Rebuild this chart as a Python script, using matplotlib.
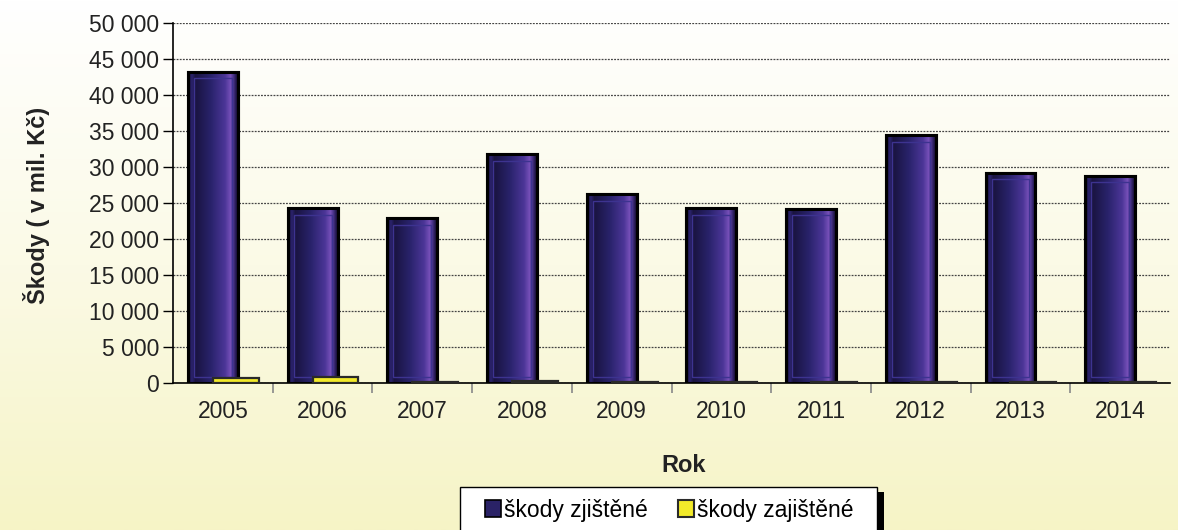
import numpy as np
import matplotlib
matplotlib.use("Agg")
import matplotlib.pyplot as plt
from matplotlib.colors import LinearSegmentedColormap
from matplotlib.patches import Rectangle, Patch
from matplotlib.ticker import FuncFormatter, MultipleLocator

# --- data ---
roky = ['2005', '2006', '2007', '2008', '2009', '2010', '2011', '2012', '2013', '2014']
skody_zjistene = [43200, 24300, 22900, 31800, 26200, 24300, 24200, 34400, 29200, 28800]
skody_zajistene = [650, 850, 130, 230, 150, 120, 90, 110, 100, 80]

plt.rcParams['font.family'] = ['Liberation Sans', 'DejaVu Sans']

W, H = 1178, 530
fig = plt.figure(figsize=(W / 100, H / 100), dpi=100)

# background gradient (white -> pale yellow)
bg = fig.add_axes([0, 0, 1, 1], zorder=-10)
bg.axis('off')
bg_cmap = LinearSegmentedColormap.from_list('bg', ['#ffffff', '#fbfae6', '#f6f4c6'])
bg.imshow(np.linspace(0, 1, 256).reshape(-1, 1), aspect='auto', cmap=bg_cmap,
          extent=[0, 1, 0, 1], origin='upper')

ax = fig.add_axes([173 / W, (H - 383) / H, 997 / W, 360 / H])
ax.set_facecolor('none')

x = np.arange(len(roky))
bar_cmap = LinearSegmentedColormap.from_list('bar', [
    (0.0, '#100a26'), (0.07, '#2c2470'), (0.14, '#1a1440'), (0.45, '#28226a'),
    (0.75, '#4c3698'), (0.86, '#7650b8'), (0.93, '#3e2c7c'), (1.0, '#120a2a')])
grad = np.linspace(0, 1, 64).reshape(1, -1)

bars = ax.bar(x - 0.1, skody_zjistene, width=0.5, color='#2a2266',
              edgecolor='black', linewidth=2.2, zorder=3)
for b in bars:
    x0, w, h = b.get_x(), b.get_width(), b.get_height()
    im = ax.imshow(grad, aspect='auto', cmap=bar_cmap, zorder=3.5,
                   extent=[x0, x0 + w, 0, h])
    im.set_clip_path(b)
    # bevel frame
    ax.add_patch(Rectangle((x0 + w * 0.12, 900), w * 0.76, h - 1800,
                           fill=False, edgecolor='#3d3390', linewidth=1.0, zorder=3.6))
    ax.add_patch(Rectangle((x0, 0), w, h, fill=False, edgecolor='black',
                           linewidth=2.2, zorder=3.7))

ax.bar(x + 0.13, skody_zajistene, width=0.46, color='#f2ea2a',
       edgecolor='#2a2a2a', linewidth=1.6, zorder=4)

ax.set_xlim(-0.5, len(roky) - 0.5)
ax.set_ylim(0, 50000)
ax.yaxis.set_major_locator(MultipleLocator(5000))
ax.yaxis.set_major_formatter(FuncFormatter(lambda v, p: f'{int(v):,}'.replace(',', ' ')))
ax.grid(axis='y', color='#444444', linestyle=(0, (1.5, 1.0)), linewidth=0.9, zorder=1)
ax.set_axisbelow(True)

ax.set_xticks(x)
ax.set_xticklabels(roky)
ax.set_xticks(np.arange(0.5, len(roky) - 0.5, 1), minor=True)
ax.tick_params(axis='x', which='major', length=0, pad=12, labelsize=16.5, labelcolor='#222222')
ax.tick_params(axis='x', which='minor', length=7, color='#888888', width=1.2)
ax.tick_params(axis='y', length=7, width=1, labelsize=16.5, labelcolor='#222222', pad=3)

for s in ['top', 'right']:
    ax.spines[s].set_visible(False)
ax.spines['left'].set_linewidth(1.2)
ax.spines['bottom'].set_linewidth(1.2)

fig.text(37 / W, 1 - 205 / H, 'Škody ( v mil. Kč)', rotation=90, ha='center', va='center',
         fontsize=17, fontweight='bold', color='#222222')
fig.text(684 / W, 1 - 465 / H, 'Rok', ha='center', va='center',
         fontsize=17, fontweight='bold', color='#222222')

# legend box with shadow
fig.patches.append(Rectangle((884 / W - 7 / W, -0.05), 7 / W, (H - 492) / H + 0.05,
                             transform=fig.transFigure, facecolor='black',
                             edgecolor='none', zorder=3))
fig.patches.append(Rectangle((460 / W, -0.05), 417 / W, (H - 487) / H + 0.05,
                             transform=fig.transFigure, facecolor='white',
                             edgecolor='black', linewidth=1.0, zorder=4))
handles = [Patch(facecolor='#2a2266', edgecolor='black', linewidth=1.2),
           Patch(facecolor='#f2ea2a', edgecolor='#2a2a2a', linewidth=1.5)]
leg = fig.legend(handles, ['škody zjištěné', 'škody zajištěné'], ncol=2,
                 loc='center', bbox_to_anchor=(669 / W, 1 - 510 / H),
                 fontsize=16.5, handlelength=0.7, handleheight=0.7,
                 handletextpad=0.15, columnspacing=1.3, frameon=False,
                 borderpad=0, borderaxespad=0)

fig.savefig('out.png', dpi=100)
